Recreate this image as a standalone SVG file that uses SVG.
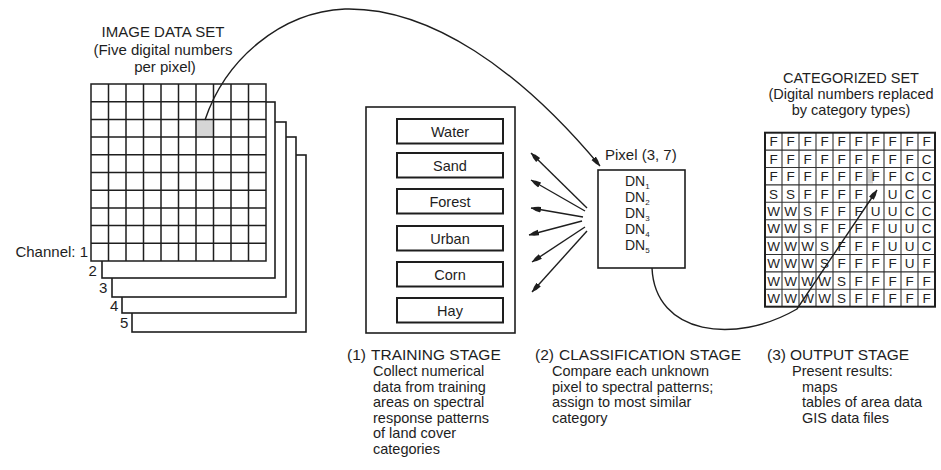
<svg xmlns="http://www.w3.org/2000/svg" width="941" height="470" viewBox="0 0 941 470">
<defs>
<style>
text{font-family:"Liberation Sans",Arial,sans-serif;fill:#1e1e1e}
.ttl{font-size:15px;text-anchor:middle}
.ttl2{font-size:14.5px;text-anchor:middle}
.hd{font-size:15px}
.hd2{font-size:15.5px}
.bd{font-size:14.5px}
.dn{font-size:14px}
.lbl{font-size:14.5px;text-anchor:middle}
.box{fill:#fff;stroke:#1e1e1e;stroke-width:1.6}
.ibox{fill:#fff;stroke:#1e1e1e;stroke-width:2}
.grid{fill:none;stroke:#1e1e1e;stroke-width:1.5}
.cgrid{fill:none;stroke:#333;stroke-width:1.1}
.ln{fill:none;stroke:#1e1e1e;stroke-width:1.4}
.cat{font-size:13.5px;text-anchor:middle}
</style>
<marker id="ah" markerWidth="12" markerHeight="8" refX="10" refY="4" orient="auto" markerUnits="userSpaceOnUse">
<path d="M0,1.2 Q6,1.6 10,4 Q6,6.4 0,6.8 z" fill="#1e1e1e"/>
</marker>
</defs>
<rect width="941" height="470" fill="#fff"/>

<g id="image-data-set">
<text class="ttl" x="163" y="37">IMAGE DATA SET</text>
<text class="ttl" x="163" y="55">(Five digital numbers</text>
<text class="ttl" x="165" y="72">per pixel)</text>
<rect class="box" x="132" y="155" width="174" height="177"/>
<rect class="box" x="122" y="137" width="174" height="176"/>
<rect class="box" x="112" y="122" width="174" height="175"/>
<rect class="box" x="102" y="102" width="173" height="176"/>
<rect x="91" y="84" width="175" height="177" fill="#fff"/>
<rect x="196" y="119.4" width="17.5" height="17.7" fill="#d6d6d6"/>
<path class="grid" d="M91,84H266V261H91Z M108.5,84V261 M126,84V261 M143.5,84V261 M161,84V261 M178.5,84V261 M196,84V261 M213.5,84V261 M231,84V261 M248.5,84V261 M91,101.7H266 M91,119.4H266 M91,137.1H266 M91,154.8H266 M91,172.5H266 M91,190.2H266 M91,207.9H266 M91,225.6H266 M91,243.3H266"/>
<text class="hd" x="88" y="257" text-anchor="end">Channel: 1</text>
<text class="hd" x="88.5" y="276">2</text>
<text class="hd" x="99" y="293">3</text>
<text class="hd" x="110" y="311">4</text>
<text class="hd" x="120" y="328">5</text>
</g>

<g id="training-stage">
<rect class="box" x="366" y="107" width="149" height="226"/>
<g id="water"><rect class="ibox" x="397" y="119" width="106" height="24.5"/><text class="lbl" x="450" y="136.5">Water</text></g>
<g id="sand"><rect class="ibox" x="397" y="153" width="106" height="24.5"/><text class="lbl" x="450" y="170.5">Sand</text></g>
<g id="forest"><rect class="ibox" x="397" y="189" width="106" height="24.5"/><text class="lbl" x="450" y="206.5">Forest</text></g>
<g id="urban"><rect class="ibox" x="397" y="226" width="106" height="24.5"/><text class="lbl" x="450" y="243.5">Urban</text></g>
<g id="corn"><rect class="ibox" x="397" y="262" width="106" height="24.5"/><text class="lbl" x="450" y="279.5">Corn</text></g>
<g id="hay"><rect class="ibox" x="397" y="298" width="106" height="24.5"/><text class="lbl" x="450" y="315.5">Hay</text></g>
</g>

<g id="pixel">
<text class="hd" x="605" y="160">Pixel (3, 7)</text>
<rect class="box" x="598" y="170" width="87" height="98"/>
<text class="dn" x="625" y="186">DN<tspan font-size="8" dy="2.5">1</tspan></text>
<text class="dn" x="625" y="202">DN<tspan font-size="8" dy="2.5">2</tspan></text>
<text class="dn" x="625" y="218">DN<tspan font-size="8" dy="2.5">3</tspan></text>
<text class="dn" x="625" y="234">DN<tspan font-size="8" dy="2.5">4</tspan></text>
<text class="dn" x="625" y="250">DN<tspan font-size="8" dy="2.5">5</tspan></text>
</g>

<g id="categorized-set">
<text class="ttl2" x="851" y="83">CATEGORIZED SET</text>
<text class="ttl2" x="851" y="99">(Digital numbers replaced</text>
<text class="ttl2" x="851" y="115">by category types)</text>
<rect x="765" y="132.7" width="170" height="174" fill="#fff"/>
<rect x="868" y="169" width="5" height="14.5" fill="#cfcfcf"/>
<path class="cgrid" d="M782,132.7V306.7 M799,132.7V306.7 M816,132.7V306.7 M833,132.7V306.7 M850,132.7V306.7 M867,132.7V306.7 M884,132.7V306.7 M901,132.7V306.7 M918,132.7V306.7 M765,150.1H935 M765,167.5H935 M765,184.9H935 M765,202.3H935 M765,219.7H935 M765,237.1H935 M765,254.5H935 M765,271.9H935 M765,289.3H935"/>
<rect x="765" y="132.7" width="170" height="174" fill="none" stroke="#1e1e1e" stroke-width="2"/>
<text class="cat" x="773.5 790.5 807.5 824.5 841.5 858.5 875.5 892.5 909.5 926.5" y="146.3">FFFFFFFFFF</text>
<text class="cat" x="773.5 790.5 807.5 824.5 841.5 858.5 875.5 892.5 909.5 926.5" y="163.7">FFFFFFFFFC</text>
<text class="cat" x="773.5 790.5 807.5 824.5 841.5 858.5 875.5 892.5 909.5 926.5" y="181.1">FFFFFFFFCC</text>
<text class="cat" x="773.5 790.5 807.5 824.5 841.5 858.5 892.5 909.5 926.5" y="198.5">SSFFFFUCC</text>
<text class="cat" x="773.5 790.5 807.5 824.5 841.5 858.5 875.5 892.5 909.5 926.5" y="215.9">WWSFFFUUCC</text>
<text class="cat" x="773.5 790.5 807.5 824.5 841.5 858.5 875.5 892.5 909.5 926.5" y="233.3">WWSFFFFUUC</text>
<text class="cat" x="773.5 790.5 807.5 824.5 841.5 858.5 875.5 892.5 909.5 926.5" y="250.7">WWWSFFFUUC</text>
<text class="cat" x="773.5 790.5 807.5 824.5 841.5 858.5 875.5 892.5 909.5 926.5" y="268.1">WWWSFFFFUF</text>
<text class="cat" x="773.5 790.5 807.5 824.5 841.5 858.5 875.5 892.5 909.5 926.5" y="285.5">WWWWSFFFFF</text>
<text class="cat" x="773.5 790.5 807.5 824.5 841.5 858.5 875.5 892.5 909.5 926.5" y="302.9">WWWWSFFFFF</text>
</g>

<g id="connectors">
<path class="ln" d="M205,120 C225,60 280,12 345,9 C430,7 520,70 600,166" marker-end="url(#ah)"/>
<path class="ln" d="M587,208 L531,153" marker-end="url(#ah)"/>
<path class="ln" d="M585,211 L531,180" marker-end="url(#ah)"/>
<path class="ln" d="M583,217 L531,208" marker-end="url(#ah)"/>
<path class="ln" d="M582,221 L529,235" marker-end="url(#ah)"/>
<path class="ln" d="M585,227 L532,262" marker-end="url(#ah)"/>
<path class="ln" d="M587,231 L532,292" marker-end="url(#ah)"/>
<path class="ln" d="M652,268 C655,335 735,345 797,309 L877,190" marker-end="url(#ah)"/>
</g>

<g id="captions">
<text class="hd2" y="360"><tspan x="347">(1)</tspan><tspan x="371">TRAINING STAGE</tspan></text>
<text class="bd" x="373" y="376">Collect numerical</text>
<text class="bd" x="373" y="391.5">data from training</text>
<text class="bd" x="373" y="407">areas on spectral</text>
<text class="bd" x="373" y="422.5">response patterns</text>
<text class="bd" x="373" y="438">of land cover</text>
<text class="bd" x="373" y="453.5">categories</text>
<text class="hd2" y="360"><tspan x="535">(2)</tspan><tspan x="559">CLASSIFICATION STAGE</tspan></text>
<text class="bd" x="552" y="376">Compare each unknown</text>
<text class="bd" x="552" y="391.5">pixel to spectral patterns;</text>
<text class="bd" x="552" y="407">assign to most similar</text>
<text class="bd" x="552" y="422.5">category</text>
<text class="hd2" y="360"><tspan x="767">(3)</tspan><tspan x="790">OUTPUT STAGE</tspan></text>
<text class="bd" x="792" y="376">Present results:</text>
<text class="bd" x="802" y="391.5">maps</text>
<text class="bd" x="802" y="407">tables of area data</text>
<text class="bd" x="802" y="422.5">GIS data files</text>
</g>
</svg>
